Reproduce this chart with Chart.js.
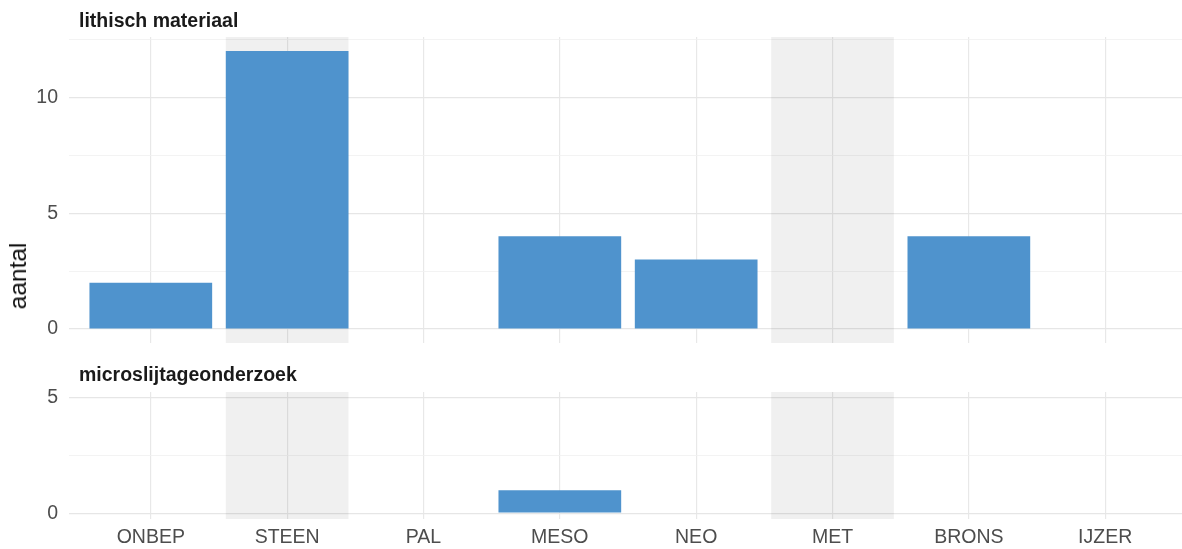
<!DOCTYPE html>
<html>
<head>
<meta charset="utf-8">
<script src="https://cdn.jsdelivr.net/npm/chart.js@4.4.1/dist/chart.umd.min.js"></script>
<style>
  html, body { margin: 0; padding: 0; background: #fff; overflow: hidden; }
  body { width: 1182px; height: 549px; position: relative; font-family: "Liberation Sans", Arial, sans-serif; }
  .panel { position: absolute; left: 0; top: 0; width: 1187px; height: 549px; }
  .strip { position: absolute; left: 79px; font-weight: bold; font-size: 19.5px; color: #1a1a1a; line-height: 1.15; white-space: nowrap; }
  #ytitle { position: absolute; left: 18px; top: 276px; font-size: 24.5px; color: #111; transform: translate(-50%, -50%) rotate(-90deg); white-space: nowrap; }
</style>
</head>
<body>
<div class="panel"><canvas id="topChart"></canvas></div>
<div class="panel"><canvas id="bottomChart"></canvas></div>
<div class="strip" style="top: 9px;">lithisch materiaal</div>
<div class="strip" style="top: 363px;">microslijtageonderzoek</div>
<div id="ytitle">aantal</div>

<script>
// data
const categories = ['ONBEP', 'STEEN', 'PAL', 'MESO', 'NEO', 'MET', 'BRONS', 'IJZER'];
const lithischValues = [2, 12, 0, 4, 3, 0, 4, 0];
const microValues = [0, 0, 0, 1, 0, 0, 0, 0];
const shadedCategories = ['STEEN', 'MET'];
const topLimits = [0, 12];
const bottomLimits = [0, 5];
const majorTicks = [0, 5, 10];
const minorTicks = [2.5, 7.5, 12.5];

const BAR_COLOR = '#4f93cd';
const TICK_COLOR = '#4d4d4d';
const TICK_FONT = { family: 'Liberation Sans', size: 19.5 };

// grey bands behind some categories (ggplot-like rect layer)
const bandPlugin = {
  id: 'bands',
  beforeDatasetsDraw(chart) {
    const { ctx, chartArea, scales } = chart;
    ctx.save();
    ctx.fillStyle = 'rgba(0, 0, 0, 0.06)';
    shadedCategories.forEach(name => {
      const i = categories.indexOf(name);
      const x0 = scales.x.getPixelForValue(i - 0.45);
      const x1 = scales.x.getPixelForValue(i + 0.45);
      ctx.fillRect(x0, chartArea.top, x1 - x0, chartArea.bottom - chartArea.top);
    });
    ctx.restore();
  }
};

function expand(limits) {
  const pad = (limits[1] - limits[0]) * 0.05;
  return [limits[0] - pad, limits[1] + pad];
}

function makePanel(canvasId, values, limits, opts) {
  const [yMin, yMax] = expand(limits);
  const ticks = majorTicks.concat(minorTicks)
    .filter(v => v >= yMin && v <= yMax)
    .sort((a, b) => a - b);

  new Chart(document.getElementById(canvasId), {
    type: 'bar',
    data: {
      datasets: [{
        data: values.map((v, i) => ({ x: i, y: v })),
        backgroundColor: BAR_COLOR,
        borderWidth: 0,
        barPercentage: 0.9,
        categoryPercentage: 1
      }]
    },
    options: {
      responsive: true,
      maintainAspectRatio: false,
      animation: false,
      events: [],
      layout: { padding: { top: opts.top, bottom: opts.bottom, left: 0, right: 0 } },
      plugins: { legend: { display: false }, tooltip: { enabled: false } },
      scales: {
        x: {
          type: 'linear',
          min: -0.6,
          max: categories.length - 1 + 0.6,
          offset: false,
          grid: { offset: false, color: '#e8e8e8', lineWidth: 1.2, drawTicks: false },
          border: { display: false },
          afterBuildTicks: scale => { scale.ticks = categories.map((c, i) => ({ value: i })); },
          afterFit: scale => { scale.height = opts.xHeight; },
          ticks: {
            display: opts.showX,
            autoSkip: false,
            maxRotation: 0,
            padding: 7,
            color: TICK_COLOR,
            font: TICK_FONT,
            callback: v => categories[v]
          }
        },
        y: {
          min: yMin,
          max: yMax,
          afterBuildTicks: scale => { scale.ticks = ticks.map(v => ({ value: v })); },
          afterFit: scale => { scale.width = 69; },
          grid: {
            drawTicks: false,
            color: c => majorTicks.includes(c.tick.value) ? '#e6e6e6' : '#f0f0f0',
            lineWidth: c => majorTicks.includes(c.tick.value) ? 1.3 : 0.8
          },
          border: { display: false },
          ticks: {
            padding: 11,
            color: TICK_COLOR,
            font: TICK_FONT,
            callback: v => majorTicks.includes(v) ? String(v) : ''
          }
        }
      }
    },
    plugins: [bandPlugin]
  });
}

makePanel('topChart', lithischValues, topLimits, { top: 37, bottom: 206, xHeight: 0, showX: false });
makePanel('bottomChart', microValues, bottomLimits, { top: 392, bottom: 0, xHeight: 30, showX: true });
</script>
</body>
</html>
